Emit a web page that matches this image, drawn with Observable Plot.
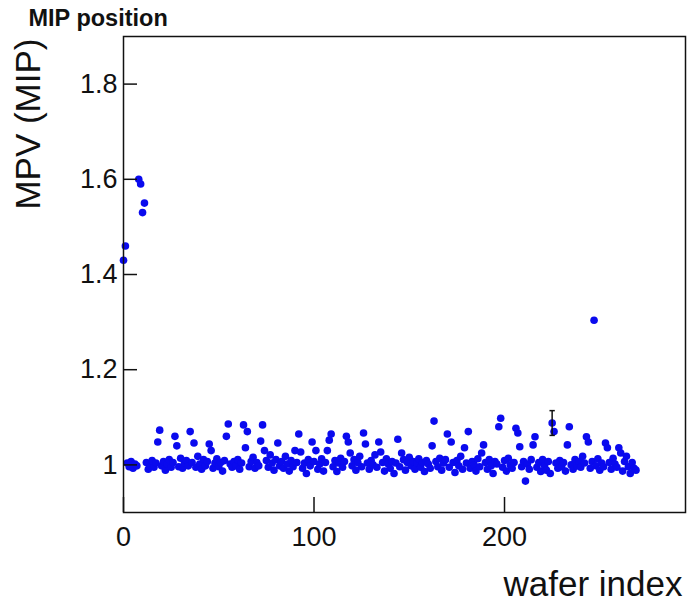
<!DOCTYPE html>
<html>
<head>
<meta charset="utf-8">
<script src="https://cdn.jsdelivr.net/npm/d3@7"></script>
<script src="https://cdn.jsdelivr.net/npm/@observablehq/plot@0.6"></script>
<style>
  html, body { margin: 0; padding: 0; background: #fff; }
  #chart svg { display: block; }
</style>
</head>
<body>
<div id="chart"></div>
<script>
// MPV (in MIP units) per wafer index
const mpv = [
  1.43, 1.46, 1.004, 0.996, 1.007, 0.993, 1.002, 0.998, 1.60, 1.59,
  1.53, 1.55, 1.005, 0.991, 0.996, 1.009, 0.995, 1.004, 1.048, 1.073,
  0.998, 1.007, 0.989, 1.002, 1.011, 0.995, 1.005, 1.06, 1.04, 0.996,
  1.014, 0.993, 1.004, 1.009, 0.998, 1.07, 1.005, 1.046, 0.995, 1.018,
  1.002, 0.991, 1.011, 0.998, 1.007, 1.044, 1.03, 0.993, 1.004, 1.013,
  0.996, 1.005, 0.987, 1.009, 1.06, 1.086, 1.002, 0.995, 1.007, 0.998,
  1.011, 0.991, 1.004, 1.084, 1.036, 1.07, 0.996, 1.007, 1.016, 0.993,
  1.005, 0.998, 1.05, 1.084, 1.03, 1.009, 0.995, 1.021, 1.004, 0.989,
  1.011, 1.046, 0.998, 1.007, 0.993, 1.018, 1.002, 0.987, 1.009, 0.996,
  1.03, 1.005, 1.065, 1.027, 0.993, 1.004, 0.982, 1.011, 0.998, 1.048,
  1.007, 1.03, 0.991, 1.002, 1.013, 0.987, 1.005, 1.03, 1.052, 1.065,
  0.996, 1.009, 0.986, 1.004, 1.014, 0.995, 1.007, 1.06, 1.048, 1.025,
  0.998, 1.011, 0.989, 1.005, 1.018, 0.996, 1.067, 1.044, 1.004, 0.991,
  1.009, 1.000, 1.021, 0.995, 1.048, 1.027, 1.005, 0.987, 1.013, 1.002,
  0.993, 1.007, 0.982, 1.004, 1.054, 0.996, 1.025, 1.011, 0.989, 1.005,
  1.016, 0.998, 1.007, 0.991, 1.004, 1.013, 0.995, 1.005, 0.986, 1.009,
  1.002, 0.993, 1.04, 1.092, 1.007, 0.996, 1.014, 0.989, 1.004, 1.011,
  1.065, 0.995, 1.048, 1.005, 0.984, 1.009, 0.998, 1.018, 0.991, 1.036,
  1.004, 1.07, 0.993, 1.007, 1.000, 0.987, 1.013, 0.996, 1.025, 1.042,
  1.005, 0.991, 1.011, 0.998, 0.982, 1.007, 1.002, 1.08, 1.098, 0.995,
  1.009, 0.987, 1.014, 1.000, 0.993, 1.005, 1.077, 1.067, 1.038, 0.996,
  1.007, 0.966, 1.002, 0.991, 1.011, 1.042, 1.059, 0.995, 1.005, 0.986,
  1.011, 0.998, 0.989, 1.007, 0.982, 1.088, 1.07, 1.004, 0.993, 1.009,
  0.996, 1.005, 0.987, 1.042, 1.08, 1.000, 0.991, 1.011, 0.998, 1.007,
  0.995, 1.018, 1.004, 1.059, 1.048, 0.993, 1.007, 1.304, 0.998, 1.013,
  0.989, 1.004, 0.996, 1.046, 1.036, 1.005, 0.991, 1.014, 1.002, 0.995,
  1.036, 1.025, 0.987, 1.007, 1.018, 0.996, 0.982, 1.005, 0.993, 0.989
];
const wafer = mpv.map((_, i) => i);

// the one visible error bar
const errWafer = [225];
const errValue = [1.088];
const errSize = [0.026];

const xTicks = [0, 100, 200];
const yTicks = [1, 1.2, 1.4, 1.6, 1.8];
const xDomain = [0, 295];
const yDomain = [0.9, 1.9];

const points = wafer.map((w, i) => ({w, v: mpv[i]}));
const errs = errWafer.map((w, i) => ({w, lo: errValue[i] - errSize[i], hi: errValue[i] + errSize[i]}));

const W = 689, H = 604;
const mL = 123, mR = 4, mT = 36, mB = 92;
const innerW = W - mL - mR, innerH = H - mT - mB;

const capSymbol = {
  draw(ctx, size) {
    const w = Math.sqrt(size);
    ctx.moveTo(-w / 2, 0);
    ctx.lineTo(w / 2, 0);
  }
};

const chart = Plot.plot({
  width: W, height: H,
  marginLeft: mL, marginRight: mR, marginTop: mT, marginBottom: mB,
  x: {domain: xDomain},
  y: {domain: yDomain},
  style: {fontFamily: "'Liberation Sans', Arial, Helvetica, sans-serif", color: "#111", background: "#fff"},
  marks: [
    Plot.dot(points, {x: "w", y: "v", r: 3.8, fill: "#0a0aee", stroke: "none"}),
    Plot.ruleX(errs, {x: "w", y1: "lo", y2: "hi", stroke: "#111", strokeWidth: 1.5}),
    Plot.dot(errs, {x: "w", y: "lo", symbol: capSymbol, r: 3, stroke: "#111", strokeWidth: 1.5, fill: "none"}),
    Plot.dot(errs, {x: "w", y: "hi", symbol: capSymbol, r: 3, stroke: "#111", strokeWidth: 1.5, fill: "none"}),
    Plot.frame({stroke: "#111", strokeWidth: 1.5}),
    Plot.tickX(xTicks, {x: d => d, insetTop: innerH - 15, stroke: "#111", strokeWidth: 1.5}),
    Plot.tickY(yTicks, {y: d => d, insetRight: innerW - 14, stroke: "#111", strokeWidth: 1.5}),
    Plot.axisX(xTicks, {tickSize: 0, tickPadding: 14, fontSize: 27, label: null, tickFormat: d => String(d)}),
    Plot.axisY(yTicks, {tickSize: 0, tickPadding: 6, fontSize: 27, label: null, tickFormat: d => String(d)}),
    Plot.text(["MPV (MIP)"], {frameAnchor: "top-left", rotate: -90, textAnchor: "end", lineAnchor: "bottom",
      dx: 39 - mL, dy: 38 - mT, fontSize: 35, fill: "#111"}),
    Plot.text(["wafer index"], {frameAnchor: "bottom-right", textAnchor: "end", lineAnchor: "bottom",
      dx: -3, dy: 595 - (H - mB), fontSize: 35, fill: "#111"}),
    Plot.text(["MIP position"], {frameAnchor: "top-left", textAnchor: "start", lineAnchor: "bottom",
      dx: 28 - mL, dy: 25 - mT, fontSize: 23.5, fontWeight: "bold", fill: "#111"})
  ]
});
document.getElementById("chart").appendChild(chart);
</script>
</body>
</html>
